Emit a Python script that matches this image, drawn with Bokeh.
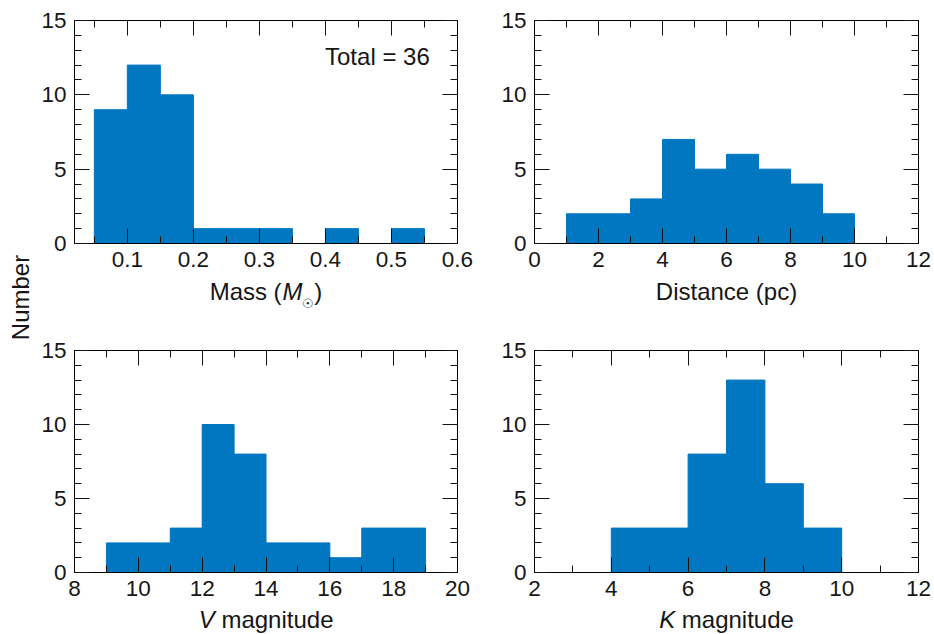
import math
from bokeh.plotting import figure
from bokeh.models import Range1d, LinearAxis, FixedTicker, Label, CustomJSTickFormatter
from bokeh.layouts import row, column
from bokeh.embed import file_html
from bokeh.resources import INLINE

# ---------------- data ----------------
mass_edges = [0.05, 0.10, 0.15, 0.20, 0.25, 0.30, 0.35, 0.40, 0.45, 0.50, 0.55]
mass_counts = [9, 12, 10, 1, 1, 1, 0, 1, 0, 1]

dist_edges = [1, 2, 3, 4, 5, 6, 7, 8, 9, 10]
dist_counts = [2, 2, 3, 7, 5, 6, 5, 4, 2]

vmag_edges = [9, 10, 11, 12, 13, 14, 15, 16, 17, 18, 19]
vmag_counts = [2, 2, 3, 10, 8, 2, 2, 1, 3, 3]

kmag_edges = [4, 5, 6, 7, 8, 9, 10]
kmag_counts = [3, 3, 8, 13, 6, 3]

total_label = "Total = 36"

mass_ticks = [0.1, 0.2, 0.3, 0.4, 0.5, 0.6]
mass_minor = [0.05, 0.1, 0.15, 0.2, 0.25, 0.3, 0.35, 0.4, 0.45, 0.5, 0.55, 0.6]
dist_ticks = [0, 2, 4, 6, 8, 10, 12]
dist_minor = [0, 1, 2, 3, 4, 5, 6, 7, 8, 9, 10, 11, 12]
vmag_ticks = [8, 10, 12, 14, 16, 18, 20]
vmag_minor = [8, 9, 10, 11, 12, 13, 14, 15, 16, 17, 18, 19, 20]
kmag_ticks = [2, 4, 6, 8, 10, 12]
kmag_minor = [2, 3, 4, 5, 6, 7, 8, 9, 10, 11, 12]
count_ticks = [0, 5, 10, 15]
count_minor = [0, 1, 2, 3, 4, 5, 6, 7, 8, 9, 10, 11, 12, 13, 14, 15]

# ---------------- style ----------------
FONT = "Liberation Sans"
TXT = "#161616"
BAR = "#0077c0"
TICK_FS = "22.5px"
LAB_FS = 24

ADV = {'M': 833, 'a': 556, 's': 500, ' ': 278, '(': 333, ')': 333, 'V': 667, 'K': 667,
       'm': 833, 'g': 556, 'n': 556, 'i': 222, 't': 278, 'u': 556, 'd': 556, 'e': 556,
       'D': 722, 'c': 500, 'p': 556, '\u2609': 840}


def tw(s, size):
    return sum(ADV.get(c, 556) for c in s) * size / 1000.0


def style_axis(ax, major, minor, show):
    ax.ticker = FixedTicker(ticks=major, minor_ticks=minor)
    ax.major_tick_in = 15
    ax.major_tick_out = 0
    ax.minor_tick_in = 7
    ax.minor_tick_out = 0
    ax.axis_line_color = "black"
    ax.major_tick_line_color = "#111111"
    ax.minor_tick_line_color = "#111111"
    ax.axis_line_width = 1
    if show:
        ax.major_label_text_font = FONT
        ax.major_label_text_font_size = TICK_FS
        ax.major_label_text_color = TXT
        ax.major_label_standoff = 8
    else:
        ax.formatter = CustomJSTickFormatter(code="return ''")
        ax.major_label_text_font_size = "0px"
        ax.major_label_standoff = 0


def make_panel(edges, counts, xr, xmaj, xmin, width, bl, br, bt, frame_h,
               cap_h, base, label_parts):
    bb = 33
    p = figure(width=width, height=bt + frame_h + bb, x_range=Range1d(*xr), y_range=Range1d(0, 15),
               output_backend="svg", toolbar_location=None,
               min_border_left=bl, min_border_right=br, min_border_top=bt, min_border_bottom=bb)
    p.xgrid.visible = False
    p.ygrid.visible = False
    p.outline_line_color = "black"
    p.quad(left=edges[:-1], right=edges[1:], top=counts, bottom=0,
           fill_color=BAR, line_color=BAR, line_width=1)
    style_axis(p.xaxis[0], xmaj, xmin, True)
    style_axis(p.yaxis[0], count_ticks, count_minor, True)
    top = LinearAxis()
    style_axis(top, xmaj, xmin, False)
    p.add_layout(top, "above")
    right = LinearAxis()
    style_axis(right, count_ticks, count_minor, False)
    p.add_layout(right, "right")

    # caption strip under the panel holding the axis title (mixed upright / italic text);
    # its frame is aligned with the panel frame, so it shares the panel's x range
    cap = figure(width=width, height=cap_h, x_range=Range1d(*xr), y_range=Range1d(0, cap_h),
                 output_backend="svg", toolbar_location=None, x_axis_location=None,
                 y_axis_location=None, min_border=0,
                 min_border_left=bl, min_border_right=br)
    cap.xgrid.visible = False
    cap.ygrid.visible = False
    cap.outline_line_color = None
    frame_w = width - bl - br
    ppx = frame_w / (xr[1] - xr[0])
    total = sum(tw(t, s) + gap for t, st, s, dy, gap in label_parts)
    cur = frame_w / 2.0 - total / 2.0
    for t, st, s, dy, gap in label_parts:
        cur += gap
        mid_from_top = base + dy - 0.3465 * s
        cap.add_layout(Label(x=xr[0] + cur / ppx, y=cap_h - mid_from_top, text=t,
                             text_font=FONT, text_font_size=f"{s}px", text_font_style=st,
                             text_color=TXT, text_align="left", text_baseline="middle"))
        cur += tw(t, s)
    return p, cap


SP = tw(" ", LAB_FS)

# top row: panel 0..276, caption 276..338 ; bottom row: panel 338..605, caption 605..634
p1, c1 = make_panel(mass_edges, mass_counts, (0.02, 0.6), mass_ticks, mass_minor,
                    442, 35, 23, 20, 223, 62, 23,
                    [("Mass", "normal", LAB_FS, 0, 0), ("(", "normal", LAB_FS, 0, SP),
                     ("M", "italic", LAB_FS, 0, 1),
                     ("\u2609", "normal", 13, 9, 0), (")", "normal", LAB_FS, 0, 1)])
p1.add_layout(Label(x=0.558, y=12.6, text=total_label, text_font=FONT, text_font_size="24px",
                    text_color=TXT, text_align="right", text_baseline="middle"))

p2, c2 = make_panel(dist_edges, dist_counts, (0, 12), dist_ticks, dist_minor,
                    452, 54, 14, 20, 223, 62, 23,
                    [("Distance (pc)", "normal", LAB_FS, 0, 0)])

p3, c3 = make_panel(vmag_edges, vmag_counts, (8, 20), vmag_ticks, vmag_minor,
                    442, 35, 23, 12, 222, 29, 22,
                    [("V", "italic", LAB_FS, 0, 0), ("magnitude", "normal", LAB_FS, 0, SP)])

p4, c4 = make_panel(kmag_edges, kmag_counts, (2, 12), kmag_ticks, kmag_minor,
                    452, 54, 14, 12, 222, 29, 22,
                    [("K", "italic", LAB_FS, 0, 0), ("magnitude", "normal", LAB_FS, 0, SP)])

lab = figure(width=38, height=634, x_range=Range1d(0, 38), y_range=Range1d(0, 634),
             output_backend="svg", toolbar_location=None, x_axis_location=None,
             y_axis_location=None, min_border=0)
lab.xgrid.visible = False
lab.ygrid.visible = False
lab.outline_line_color = None
lab.add_layout(Label(x=20, y=634 - 297, text="Number", angle=math.pi / 2, text_font=FONT,
                     text_font_size=f"{LAB_FS}px", text_color=TXT, text_align="center",
                     text_baseline="middle"))

grid = column(row(column(p1, c1), column(p2, c2)),
              row(column(p3, c3), column(p4, c4)))
layout = row(lab, grid)

with open("out.html", "w") as f:
    f.write(file_html(layout, INLINE))
